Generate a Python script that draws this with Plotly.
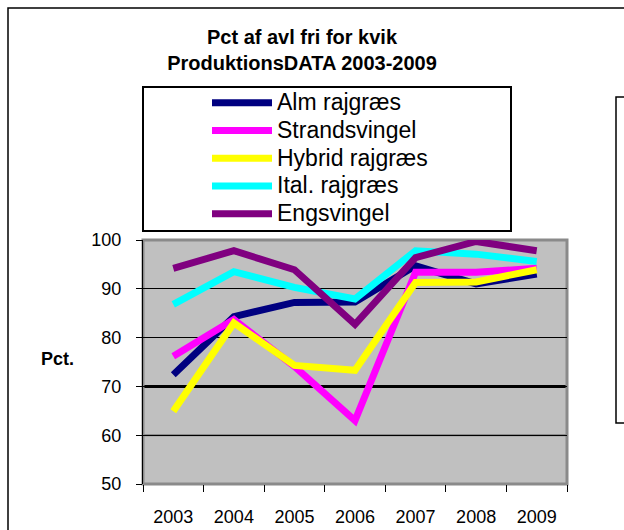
import plotly.graph_objects as go

# ---- data ----
years = ["2003", "2004", "2005", "2006", "2007", "2008", "2009"]
alm_rajgraes = [72.4, 84.3, 87.2, 87.3, 94.7, 91.0, 93.0]
strandsvingel = [76.2, 83.7, 74.1, 63.0, 93.4, 93.4, 94.2]
hybrid_rajgraes = [64.9, 83.0, 74.3, 73.3, 91.3, 91.4, 93.9]
ital_rajgraes = [86.8, 93.5, 90.3, 87.9, 97.8, 97.1, 95.6]
engsvingel = [94.2, 97.8, 93.9, 82.7, 96.4, 99.7, 97.8]

series_names = ["Alm rajgræs", "Strandsvingel", "Hybrid rajgræs", "Ital. rajgræs", "Engsvingel"]
series_values = [alm_rajgraes, strandsvingel, hybrid_rajgraes, ital_rajgraes, engsvingel]
series_colors = ["#000080", "#FF00FF", "#FFFF00", "#00FFFF", "#800080"]

y_ticks = [50, 60, 70, 80, 90, 100]

# ---- layout geometry (pixels) ----
W, H = 624, 530
L, R, T, B = 143, 567, 240, 484
PW, PH = R - L, B - T


def px_x(v):
    return (v - L) / PW


def px_y(v):
    return (B - v) / PH


FONT = "Liberation Sans, Arial, sans-serif"

fig = go.Figure()
for name, vals, col in zip(series_names, series_values, series_colors):
    fig.add_trace(go.Scatter(
        x=years, y=vals, mode="lines",
        name='<span style="font-size:23px">' + name + "</span>",
        line=dict(color=col, width=7),
    ))

shapes = [
    # outer chart frame
    dict(type="rect", xref="paper", yref="paper",
         x0=px_x(8), x1=px_x(660), y0=px_y(560), y1=px_y(8),
         line=dict(color="black", width=1.5), layer="below"),
    # empty right-hand box
    dict(type="rect", xref="paper", yref="paper",
         x0=px_x(616), x1=px_x(660), y0=px_y(423), y1=px_y(97),
         line=dict(color="black", width=1.5), layer="below"),
    # legend box
    dict(type="rect", xref="paper", yref="paper",
         x0=px_x(143), x1=px_x(511), y0=px_y(231), y1=px_y(87),
         line=dict(color="black", width=2), layer="below"),
    # heavy 70 line
    dict(type="line", xref="paper", yref="y", x0=0, x1=1, y0=70, y1=70,
         line=dict(color="black", width=3), layer="between"),
    # grey 60 line
    dict(type="line", xref="paper", yref="y", x0=0, x1=1, y0=60, y1=60,
         line=dict(color="#7a7a7a", width=2), layer="between"),
    # grey plot-area frame
    dict(type="rect", xref="paper", yref="paper", x0=0, x1=1, y0=0, y1=1,
         line=dict(color="#8a8a8a", width=3), layer="between"),
]

fig.update_layout(
    width=W, height=H, autosize=False,
    margin=dict(l=L, r=W - R, t=T, b=H - B, pad=0, autoexpand=False),
    paper_bgcolor="white",
    plot_bgcolor="#C0C0C0",
    font=dict(family=FONT, color="black", size=18),
    title=dict(
        text="<b>Pct af avl fri for kvik<br>ProduktionsDATA 2003-2009</b>",
        x=302 / W, xanchor="center", xref="container",
        y=1 - 44 / H, yanchor="top", yref="container",
        font=dict(size=20, family=FONT, color="black"),
        automargin=False,
    ),
    showlegend=True,
    legend=dict(
        x=px_x(207), xanchor="left", y=px_y(84), yanchor="top",
        xref="paper", yref="paper",
        bgcolor="rgba(0,0,0,0)", borderwidth=0,
        font=dict(size=19, family=FONT, color="black"),
        itemwidth=60, tracegroupgap=0,
    ),
    xaxis=dict(
        type="category", range=[-0.5, 6.5], automargin=False,
        tickson="boundaries", ticks="outside", ticklen=7, tickcolor="black",
        tickwidth=1, showgrid=False, showline=False, zeroline=False,
        ticklabelstandoff=20, tickfont=dict(size=18, family=FONT),
        fixedrange=True,
    ),
    yaxis=dict(
        range=[50, 100], tickvals=y_ticks, ticks="outside", ticklen=6,
        automargin=False,
        tickcolor="black", showline=True, linecolor="black", linewidth=1,
        showgrid=True, gridcolor="black", gridwidth=1, zeroline=False,
        ticklabelstandoff=11, tickfont=dict(size=18, family=FONT),
        fixedrange=True,
    ),
    shapes=shapes,
    annotations=[
        dict(text="<b>Pct.</b>", xref="paper", yref="paper",
             x=px_x(57), y=px_y(359), xanchor="center", yanchor="middle",
             showarrow=False, font=dict(size=18, family=FONT, color="black")),
    ],
)

fig.write_html(
    "out.html",
    config={"displayModeBar": False},
    post_script="document.body.style.margin='0';document.body.style.overflow='hidden';",
)
